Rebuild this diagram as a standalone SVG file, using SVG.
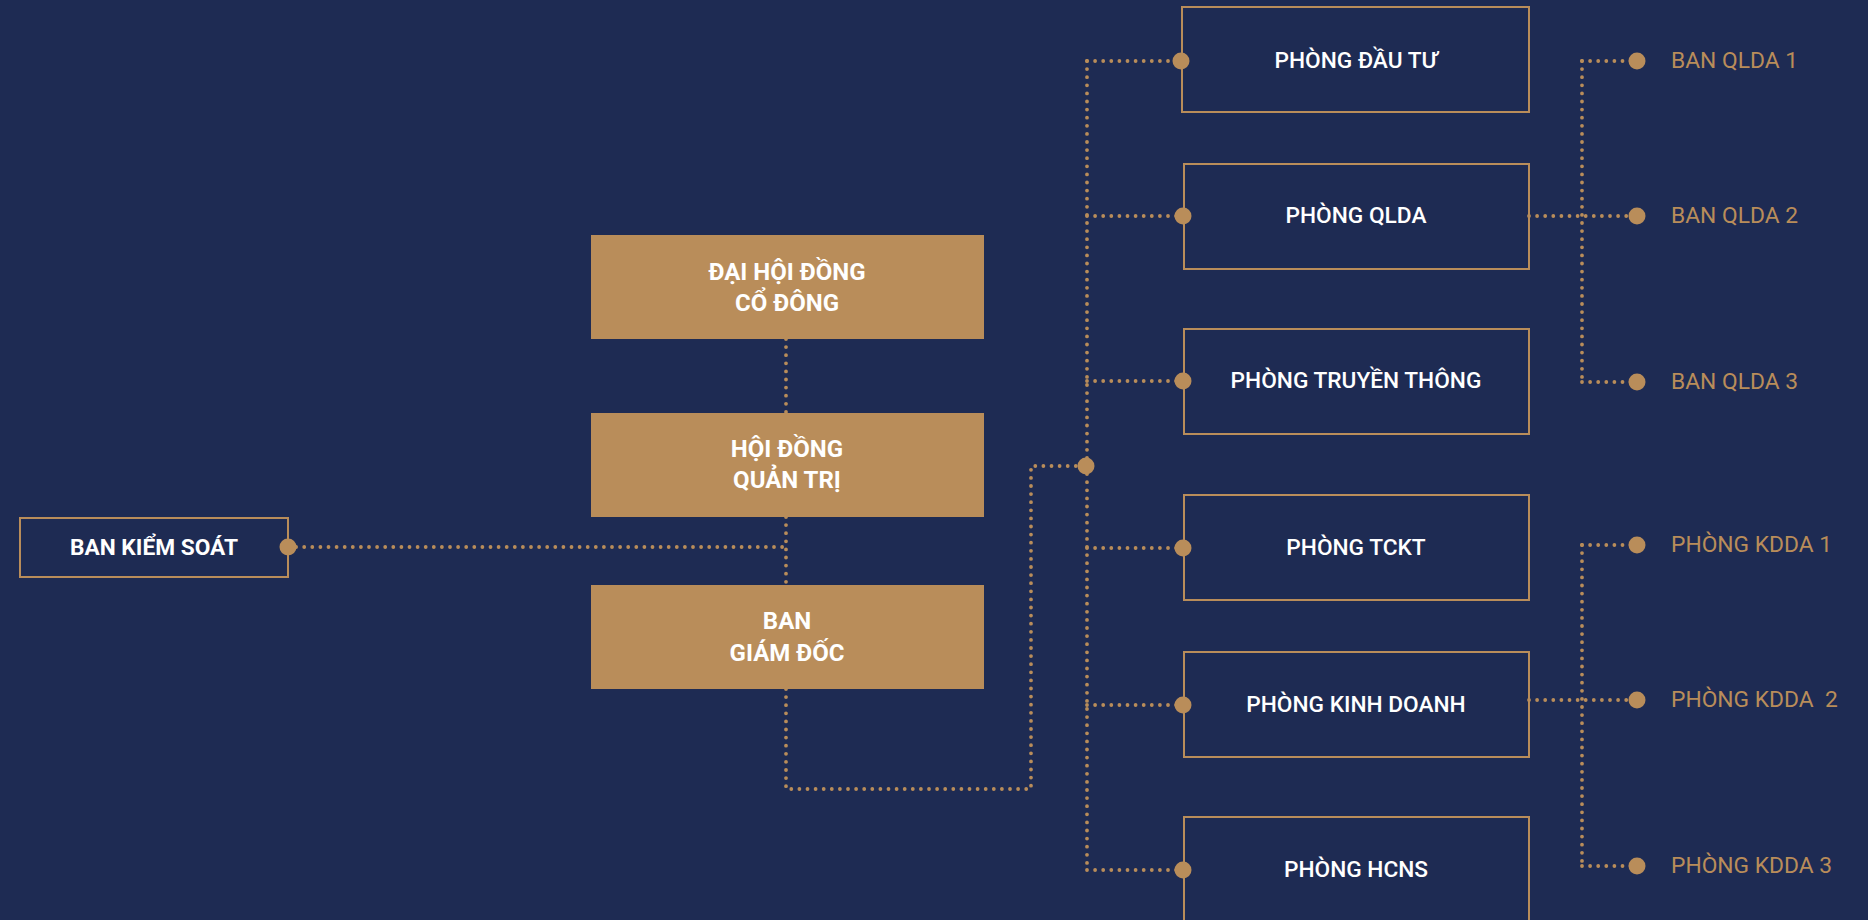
<svg xmlns="http://www.w3.org/2000/svg" width="1868" height="920" viewBox="0 0 1868 920">
<style>
.bg{fill:#1e2b53}
.ob{fill:none;stroke:#b98d5a;stroke-width:2}
.gb{fill:#b98d5a}
.dot{fill:none;stroke:#b98d5a;stroke-width:3.8;stroke-linecap:round;stroke-dasharray:0 8.1}
.pin{fill:#b98d5a}
.tb{font-family:Roboto,"Liberation Sans",sans-serif;font-size:22.7px;font-weight:700;fill:#ffffff;text-anchor:middle}
.tg{font-family:Roboto,"Liberation Sans",sans-serif;font-size:24px;font-weight:700;fill:#ffffff;text-anchor:middle}
.tm{font-family:Roboto,"Liberation Sans",sans-serif;font-size:22.7px;font-weight:500;fill:#ffffff;text-anchor:middle}
.tl{font-family:Roboto,"Liberation Sans",sans-serif;font-size:22.8px;font-weight:400;fill:#b98d5a}
</style>
<rect class="bg" x="0" y="0" width="1868" height="920"/>
<g id="connectors">
<path class="dot" d="M288 547H786"/>
<path class="dot" d="M786 339V413"/>
<path class="dot" d="M786 517V585"/>
<path class="dot" d="M786 689V789H1031V466H1086"/>
<path class="dot" d="M1087 61V870"/>
<path class="dot" d="M1087 61H1181"/>
<path class="dot" d="M1087 216H1181"/>
<path class="dot" d="M1087 381H1181"/>
<path class="dot" d="M1087 548H1181"/>
<path class="dot" d="M1087 705H1181"/>
<path class="dot" d="M1087 870H1181"/>
<path class="dot" d="M1582 61V382"/>
<path class="dot" d="M1529 216H1637"/>
<path class="dot" d="M1582 61H1637"/>
<path class="dot" d="M1582 382H1637"/>
<path class="dot" d="M1582 545V866"/>
<path class="dot" d="M1529 700H1637"/>
<path class="dot" d="M1582 545H1637"/>
<path class="dot" d="M1582 866H1637"/>
<circle class="pin" cx="1086" cy="466" r="8.5"/>
</g>
<g id="ban-kiem-soat">
<rect class="ob" x="20" y="518" width="268" height="59"/>
<circle class="pin" cx="288" cy="547" r="8.5"/>
<text class="tb" x="154" y="555">BAN KIỂM SOÁT</text>
</g>
<g id="dai-hoi-dong-co-dong">
<rect class="gb" x="591" y="235" width="393" height="104"/>
<text class="tg" x="787" y="280">ĐẠI HỘI ĐỒNG</text>
<text class="tg" x="787" y="311">CỔ ĐÔNG</text>
</g>
<g id="hoi-dong-quan-tri">
<rect class="gb" x="591" y="413" width="393" height="104"/>
<text class="tg" x="787" y="457">HỘI ĐỒNG</text>
<text class="tg" x="787" y="488">QUẢN TRỊ</text>
</g>
<g id="ban-giam-doc">
<rect class="gb" x="591" y="585" width="393" height="104"/>
<text class="tg" x="787" y="629">BAN</text>
<text class="tg" x="787" y="661">GIÁM ĐỐC</text>
</g>
<g id="phong-dau-tu">
<rect class="ob" x="1182" y="7" width="347" height="105"/>
<circle class="pin" cx="1181" cy="61" r="8.5"/>
<text class="tm" x="1356" y="68">PHÒNG ĐẦU TƯ</text>
</g>
<g id="phong-qlda">
<rect class="ob" x="1184" y="164" width="345" height="105"/>
<circle class="pin" cx="1183" cy="216" r="8.5"/>
<text class="tm" x="1356" y="223">PHÒNG QLDA</text>
</g>
<g id="phong-truyen-thong">
<rect class="ob" x="1184" y="329" width="345" height="105"/>
<circle class="pin" cx="1183" cy="381" r="8.5"/>
<text class="tm" x="1356" y="388">PHÒNG TRUYỀN THÔNG</text>
</g>
<g id="phong-tckt">
<rect class="ob" x="1184" y="495" width="345" height="105"/>
<circle class="pin" cx="1183" cy="548" r="8.5"/>
<text class="tm" x="1356" y="555">PHÒNG TCKT</text>
</g>
<g id="phong-kinh-doanh">
<rect class="ob" x="1184" y="652" width="345" height="105"/>
<circle class="pin" cx="1183" cy="705" r="8.5"/>
<text class="tm" x="1356" y="712">PHÒNG KINH DOANH</text>
</g>
<g id="phong-hcns">
<rect class="ob" x="1184" y="817" width="345" height="105"/>
<circle class="pin" cx="1183" cy="870" r="8.5"/>
<text class="tm" x="1356" y="877">PHÒNG HCNS</text>
</g>
<g id="ban-qlda-1">
<circle class="pin" cx="1637" cy="61" r="8.5"/>
<text class="tl" x="1671" y="68">BAN QLDA 1</text>
</g>
<g id="ban-qlda-2">
<circle class="pin" cx="1637" cy="216" r="8.5"/>
<text class="tl" x="1671" y="223">BAN QLDA 2</text>
</g>
<g id="ban-qlda-3">
<circle class="pin" cx="1637" cy="382" r="8.5"/>
<text class="tl" x="1671" y="389">BAN QLDA 3</text>
</g>
<g id="phong-kdda-1">
<circle class="pin" cx="1637" cy="545" r="8.5"/>
<text class="tl" x="1671" y="552">PHÒNG KDDA 1</text>
</g>
<g id="phong-kdda-2">
<circle class="pin" cx="1637" cy="700" r="8.5"/>
<text class="tl" x="1671" y="707" xml:space="preserve">PHÒNG KDDA  2</text>
</g>
<g id="phong-kdda-3">
<circle class="pin" cx="1637" cy="866" r="8.5"/>
<text class="tl" x="1671" y="873">PHÒNG KDDA 3</text>
</g>
</svg>
